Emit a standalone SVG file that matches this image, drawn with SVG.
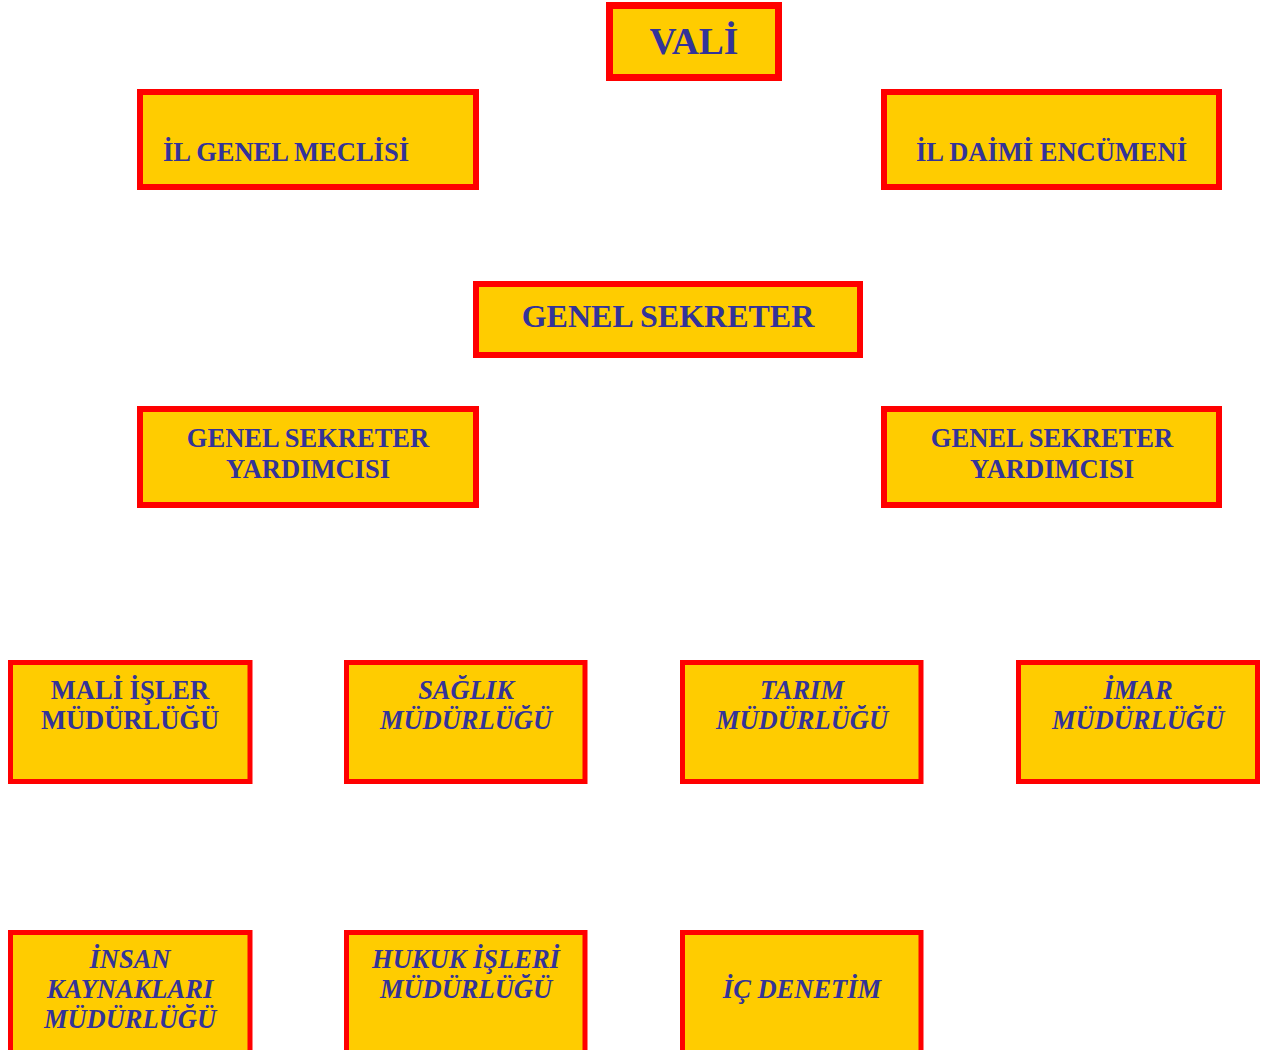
<svg xmlns="http://www.w3.org/2000/svg" width="1266" height="1050" viewBox="0 0 1266 1050">
<style>
.box{fill:#FFCC00;stroke:#FF0000}
.t{font-family:"Liberation Serif","Times New Roman",serif;font-weight:bold;fill:#333399;font-size:26.5px;text-anchor:middle}
.i{font-style:italic}
</style>
<rect width="1266" height="1050" fill="#FFFFFF"/>
<g id="connectors"></g>
<g id="vali"><rect class="box" x="609.5" y="5.5" width="169" height="72" stroke-width="7"/><text class="t" x="694" y="54" style="font-size:37.5px">VALİ</text></g>
<g id="il-genel-meclisi"><rect class="box" x="140" y="92" width="336" height="95" stroke-width="6"/><text class="t" x="163" y="161" style="text-anchor:start">İL GENEL MECLİSİ</text></g>
<g id="il-daimi-encumeni"><rect class="box" x="884" y="92" width="335" height="95" stroke-width="6"/><text class="t" x="1051.5" y="161">İL DAİMİ ENCÜMENİ</text></g>
<g id="genel-sekreter"><rect class="box" x="476" y="284" width="384" height="71" stroke-width="6"/><text class="t" x="668" y="327" style="font-size:32px">GENEL SEKRETER</text></g>
<g id="gsy-left"><rect class="box" x="140" y="409" width="336" height="96" stroke-width="6"/><text class="t" x="308" y="447">GENEL SEKRETER</text><text class="t" x="308" y="478">YARDIMCISI</text></g>
<g id="gsy-right"><rect class="box" x="884" y="409" width="335" height="96" stroke-width="6"/><text class="t" x="1052" y="447">GENEL SEKRETER</text><text class="t" x="1052" y="478">YARDIMCISI</text></g>
<g id="mali"><rect class="box" x="10.5" y="662.5" width="239.5" height="119" stroke-width="5"/><text class="t" x="130" y="699">MALİ İŞLER</text><text class="t" x="130" y="729">MÜDÜRLÜĞÜ</text></g>
<g id="saglik"><rect class="box" x="346.5" y="662.5" width="238.5" height="119" stroke-width="5"/><text class="t i" x="466" y="699">SAĞLIK</text><text class="t i" x="466" y="729">MÜDÜRLÜĞÜ</text></g>
<g id="tarim"><rect class="box" x="682.5" y="662.5" width="238.5" height="119" stroke-width="5"/><text class="t i" x="802" y="699">TARIM</text><text class="t i" x="802" y="729">MÜDÜRLÜĞÜ</text></g>
<g id="imar"><rect class="box" x="1018.5" y="662.5" width="239" height="119" stroke-width="5"/><text class="t i" x="1138" y="699">İMAR</text><text class="t i" x="1138" y="729">MÜDÜRLÜĞÜ</text></g>
<g id="insan"><rect class="box" x="10.5" y="932.5" width="239.5" height="150" stroke-width="5"/><text class="t i" x="130" y="968">İNSAN</text><text class="t i" x="130" y="998">KAYNAKLARI</text><text class="t i" x="130" y="1028">MÜDÜRLÜĞÜ</text></g>
<g id="hukuk"><rect class="box" x="346.5" y="932.5" width="238.5" height="150" stroke-width="5"/><text class="t i" x="466" y="968">HUKUK İŞLERİ</text><text class="t i" x="466" y="998">MÜDÜRLÜĞÜ</text></g>
<g id="ic-denetim"><rect class="box" x="682.5" y="932.5" width="238.5" height="150" stroke-width="5"/><text class="t i" x="802" y="998">İÇ DENETİM</text></g>
</svg>
